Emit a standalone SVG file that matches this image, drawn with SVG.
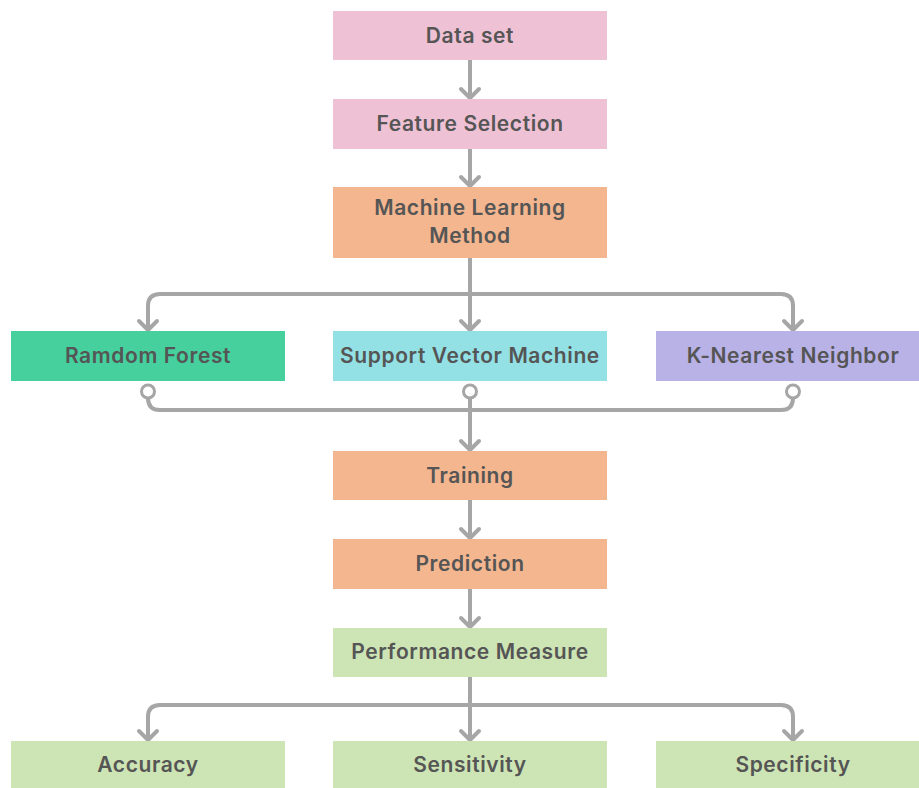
<svg xmlns="http://www.w3.org/2000/svg" width="919" height="788" viewBox="0 0 919 788">
<defs>
<style>
.lbl{font-family:Inter,"Liberation Sans",Arial,sans-serif;font-size:21px;font-weight:600;letter-spacing:0.6px;fill:#555555;text-anchor:middle}
.pink{fill:#efc1d4}
.orange{fill:#f3b68f}
.lgreen{fill:#cde4b4}
.c{fill:none;stroke:#a6a6a6;stroke-width:4;stroke-linejoin:round}
.arr{marker-end:url(#arrow)}
.dot{marker-start:url(#dot)}
</style>
<marker id="arrow" markerUnits="userSpaceOnUse" orient="auto" refX="0" refY="0" markerWidth="24" markerHeight="24" overflow="visible">
<path d="M-9,-9 L0,0 L-9,9" fill="none" stroke="#a6a6a6" stroke-width="4" stroke-linecap="round" stroke-linejoin="round"/>
</marker>
<marker id="dot" markerUnits="userSpaceOnUse" orient="auto" refX="0" refY="0" markerWidth="24" markerHeight="24" overflow="visible">
<circle cx="7" cy="0" r="6.5" fill="#ffffff" stroke="#a6a6a6" stroke-width="3"/>
</marker>
</defs>
<rect width="919" height="788" fill="#ffffff"/>
<g id="connectors">
<path class="c arr" d="M470,60 V98"/>
<path class="c arr" d="M470,149 V186"/>
<path class="c arr" d="M470,258 V330"/>
<path class="c arr" d="M470,294 H160 Q148,294 148,306 V330"/>
<path class="c arr" d="M470,294 H781 Q793,294 793,306 V330"/>
<path class="c dot" d="M148,384.5 V398 Q148,410 160,410 H470"/>
<path class="c dot" d="M793,384.5 V398 Q793,410 781,410 H470"/>
<path class="c dot arr" d="M470,384.5 V450"/>
<path class="c arr" d="M470,500 V538"/>
<path class="c arr" d="M470,589 V627"/>
<path class="c arr" d="M470,677 V740"/>
<path class="c arr" d="M470,705 H160 Q148,705 148,717 V740"/>
<path class="c arr" d="M470,705 H781 Q793,705 793,717 V740"/>
</g>
<g id="dataset"><rect class="pink" x="333" y="11" width="274" height="49"/><text class="lbl" x="470" y="43">Data set</text></g>
<g id="feature"><rect class="pink" x="333" y="99" width="274" height="50"/><text class="lbl" x="470" y="131">Feature Selection</text></g>
<g id="mlmethod"><rect class="orange" x="333" y="187" width="274" height="71"/><text class="lbl" x="470" y="215">Machine Learning</text><text class="lbl" x="470" y="243">Method</text></g>
<g id="rf"><rect fill="#45d09e" x="11" y="331" width="274" height="50"/><text class="lbl" x="148" y="363">Ramdom Forest</text></g>
<g id="svm"><rect fill="#93e1e4" x="333" y="331" width="274" height="50"/><text class="lbl" x="470" y="363">Support Vector Machine</text></g>
<g id="knn"><rect fill="#b9b2e6" x="656" y="331" width="274" height="50"/><text class="lbl" x="793" y="363">K-Nearest Neighbor</text></g>
<g id="training"><rect class="orange" x="333" y="451" width="274" height="49"/><text class="lbl" x="470" y="483">Training</text></g>
<g id="prediction"><rect class="orange" x="333" y="539" width="274" height="50"/><text class="lbl" x="470" y="571">Prediction</text></g>
<g id="performance"><rect class="lgreen" x="333" y="628" width="274" height="49"/><text class="lbl" x="470" y="659">Performance Measure</text></g>
<g id="accuracy"><rect class="lgreen" x="11" y="741" width="274" height="50"/><text class="lbl" x="148" y="772">Accuracy</text></g>
<g id="sensitivity"><rect class="lgreen" x="333" y="741" width="274" height="50"/><text class="lbl" x="470" y="772">Sensitivity</text></g>
<g id="specificity"><rect class="lgreen" x="656" y="741" width="274" height="50"/><text class="lbl" x="793" y="772">Specificity</text></g>
</svg>
